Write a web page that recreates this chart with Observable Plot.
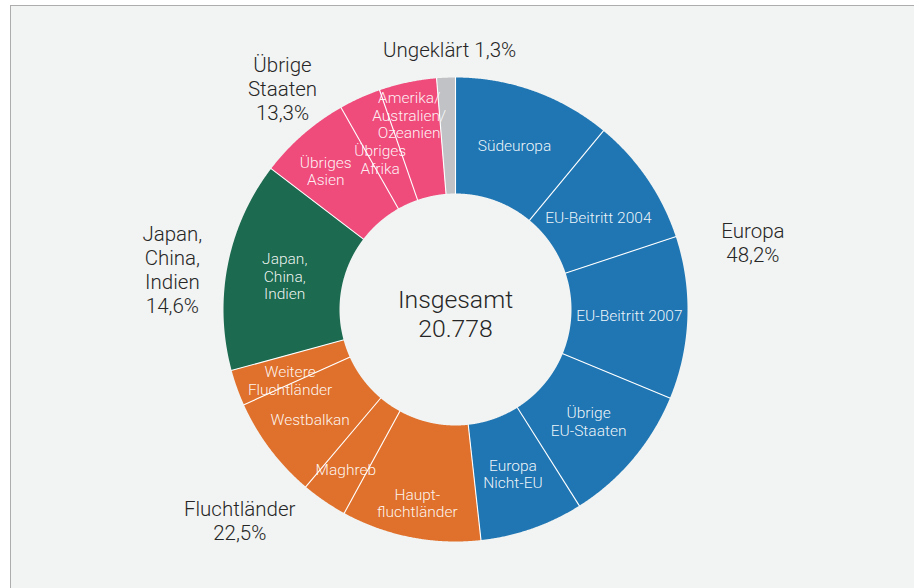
<!DOCTYPE html>
<html>
<head>
<meta charset="utf-8">
<script src="https://cdn.jsdelivr.net/npm/d3@7"></script>
<script src="https://cdn.jsdelivr.net/npm/@observablehq/plot@0.6"></script>
<style>
  html, body { margin: 0; padding: 0; background: #ffffff; }
  body { width: 914px; height: 588px; position: relative; overflow: hidden; font-family: Roboto, "Noto Sans", sans-serif; }
  #panel { position: absolute; left: 10px; top: 5px; right: 0; bottom: 0; background: #f2f4f3; border-top: 1.5px solid #adadad; border-left: 1.5px solid #adadad; }
  #chart { position: absolute; left: 0; top: 0; }
  #chart svg { background: transparent; }
</style>
</head>
<body>
<div id="panel"></div>
<div id="chart"></div>
<script>
// ---------- data ----------
const groups = ["Europa", "Fluchtländer", "Japan, China, Indien", "Übrige Staaten", "Ungeklärt"];
const groupShares = [48.2, 22.5, 14.6, 13.3, 1.3];
const groupLabelNames = ["Europa", "Fluchtländer", "Japan,\nChina,\nIndien", "Übrige\nStaaten", "Ungeklärt"];

const segments = [
  "Südeuropa", "EU-Beitritt 2004", "EU-Beitritt 2007", "Übrige EU-Staaten", "Europa Nicht-EU",
  "Hauptfluchtländer", "Maghreb", "Westbalkan", "Weitere Fluchtländer",
  "Japan, China, Indien",
  "Übriges Asien", "Übriges Afrika", "Amerika/Australien/Ozeanien",
  "Ungeklärt"
];
const segmentGroups = [
  "Europa", "Europa", "Europa", "Europa", "Europa",
  "Fluchtländer", "Fluchtländer", "Fluchtländer", "Fluchtländer",
  "Japan, China, Indien",
  "Übrige Staaten", "Übrige Staaten", "Übrige Staaten",
  "Ungeklärt"
];
const segmentShares = [11.0, 8.9, 11.3, 9.8, 7.2, 9.7, 3.2, 7.1, 2.5, 14.6, 6.4, 2.9, 4.0, 1.3];
const segmentLabels = [
  "Südeuropa", "EU-Beitritt 2004", "EU-Beitritt 2007", "Übrige\nEU-Staaten", "Europa\nNicht-EU",
  "Haupt-\nfluchtländer", "Maghreb", "Westbalkan", "Weitere\nFluchtländer",
  "Japan,\nChina,\nIndien",
  "Übriges\nAsien", "Übriges\nAfrika", "Amerika/\nAustralien/\nOzeanien",
  ""
];
const totalCount = 20778;
const centerTitle = "Insgesamt";

// ---------- style / layout ----------
const groupColors = ["#1f76b3", "#e0712c", "#1c6a4f", "#ef4c7c", "#c1c2c5"];
const W = 914, H = 588;
const cx = 455, cy = 309;           // donut centre in page pixels
const outerR = 232, innerR = 116;
// inner label distance from centre (px)
const segmentLabelRadius = [174, 170, 174, 174, 174, 197, 194, 182, 180, 174, 190, 168, 200, 174];
const segmentLabelAngleShift = [0, 1.5, 0, 0, 0, 0, 0, 0, -3.5, 0, -2, -2.3, -1.5, 0];
// outer group label placement (angle in degrees clockwise from top, radius in px)
const groupLabelAngle = [77.2, 225.6, 278.1, 322.0, 358.7];
const groupLabelRadius = [305, 302, 286, 281, 260];
const fontStack = "Roboto, 'Noto Sans', sans-serif";

// ---------- geometry ----------
const sumShares = d3.sum(segmentShares);
const toRad = d => d * Math.PI / 180;
const polar = (a, r) => ({x: r * Math.sin(a), y: -r * Math.cos(a)});

let cum = 0;
const segData = segments.map((name, i) => {
  const a0 = cum / sumShares * 2 * Math.PI;
  cum += segmentShares[i];
  const a1 = cum / sumShares * 2 * Math.PI;
  return {name, group: segmentGroups[i], a0, a1, label: segmentLabels[i], i};
});

const arcPoints = [];
for (const s of segData) {
  const n = Math.max(2, Math.ceil((s.a1 - s.a0) / toRad(0.25)));
  const pts = [];
  for (let k = 0; k <= n; k++) pts.push(polar(s.a0 + (s.a1 - s.a0) * k / n, outerR));
  for (let k = n; k >= 0; k--) pts.push(polar(s.a0 + (s.a1 - s.a0) * k / n, innerR));
  pts.push(pts[0]);
  for (const p of pts) arcPoints.push({seg: s.name, group: s.group, x: p.x, y: p.y});
}

const boundaries = segData.map(s => {
  const p0 = polar(s.a0, innerR - 0.5), p1 = polar(s.a0, outerR + 0.5);
  return {x1: p0.x, y1: p0.y, x2: p1.x, y2: p1.y};
});

const innerLabels = segData.filter(s => s.label).map(s => {
  const a = (s.a0 + s.a1) / 2 + toRad(segmentLabelAngleShift[s.i]);
  const p = polar(a, segmentLabelRadius[s.i]);
  return {text: s.label, x: p.x, y: p.y};
});

const pct = v => v.toFixed(1).replace(".", ",") + "%";
const outerLabels = groups.map((g, i) => {
  const p = polar(toRad(groupLabelAngle[i]), groupLabelRadius[i]);
  const sep = g === "Ungeklärt" ? " " : "\n";
  return {text: groupLabelNames[i] + sep + pct(groupShares[i]), x: p.x, y: p.y};
});

const deFormat = d3.formatLocale({decimal: ",", thousands: ".", grouping: [3], currency: ["", " €"]}).format(",");
const centerLabel = [{text: centerTitle + "\n" + deFormat(totalCount), x: 0, y: 3.5}];

const chart = Plot.plot({
  width: W,
  height: H,
  margin: 0,
  style: {background: "transparent", fontFamily: fontStack},
  x: {domain: [-cx, W - cx], range: [0, W], axis: null},
  y: {domain: [-cy, H - cy], range: [0, H], axis: null},
  color: {domain: groups, range: groupColors},
  marks: [
    Plot.line(arcPoints, {x: "x", y: "y", z: "seg", fill: "group", stroke: "none", curve: "linear"}),
    Plot.link(boundaries, {x1: "x1", y1: "y1", x2: "x2", y2: "y2", stroke: "#ffffff", strokeWidth: 1.1}),
    Plot.text(innerLabels, {x: "x", y: "y", text: "text", fill: "#ffffff", fillOpacity: 0.93, fontSize: 15.5, fontWeight: 300, lineHeight: 1.13}),
    Plot.text(outerLabels, {x: "x", y: "y", text: "text", fill: "#262626", fontSize: 20.5, fontWeight: 300, lineHeight: 1.17}),
    Plot.text(centerLabel, {x: "x", y: "y", text: "text", fill: "#262626", fontSize: 24.8, fontWeight: 300, lineHeight: 1.17})
  ]
});
document.getElementById("chart").appendChild(chart);
</script>
</body>
</html>
